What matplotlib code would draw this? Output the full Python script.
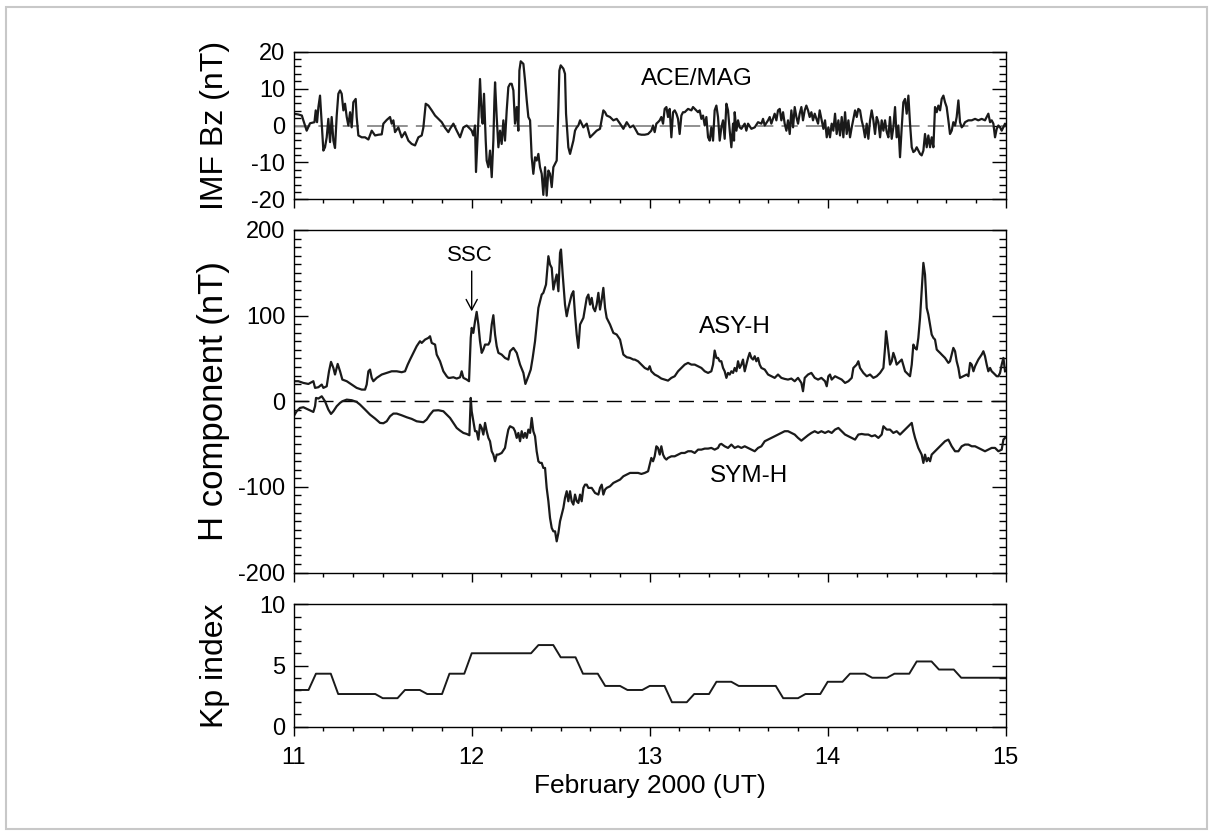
import numpy as np
import matplotlib
matplotlib.use("Agg")
import matplotlib.pyplot as plt
from matplotlib.ticker import MultipleLocator
from matplotlib.patches import Rectangle

plt.rcParams['font.family'] = ['Liberation Sans', 'DejaVu Sans']
plt.rcParams['axes.unicode_minus'] = False

# ---- data (time in hours after 11 Feb 2000 00 UT) ----
bz_hours = [
    # 11 Feb
    0.0, 0.6, 1.1, 1.3, 1.75, 2.2, 2.8, 2.97, 3.15, 3.33, 3.55, 3.78, 4.0, 4.22, 4.45, 4.67,
    4.9, 5.12, 5.35, 5.57, 5.8, 6.02, 6.25, 6.47, 6.7, 6.92, 7.15, 7.37, 7.6, 7.82, 8.04, 8.36,
    8.49, 8.72, 9.17, 9.62, 10.07, 10.52, 10.97, 11.42, 11.87, 12.09, 12.54, 12.99, 13.21, 13.44,
    13.66, 14.11, 14.56, 15.0, 15.46, 15.91, 16.36, 16.81, 17.26, 17.48, 17.8, 18.16, 18.61,
    19.06, 19.51, 19.96, 20.4, 20.85,
    # 12 Feb
    21.08, 21.53, 21.98, 22.43, 22.88, 23.33, 23.78, 24.0, 24.22, 24.45, 24.58, 24.9, 25.12,
    25.35, 25.48, 25.66, 25.89, 26.02, 26.25, 26.47, 26.7, 26.92, 27.06, 27.15, 27.37, 27.6,
    27.82, 28.04, 28.27, 28.49, 28.72, 28.94, 29.17, 29.39, 29.62, 29.84, 30.07, 30.29, 30.43,
    30.61, 30.97, 31.19, 31.42, 31.64, 31.87, 32.09, 32.31, 32.54, 32.76, 32.99, 33.21, 33.44,
    33.66, 33.89, 34.11, 34.34, 34.56, 34.79, 35.01, 35.24, 35.46, 35.69, 35.82, 36.0, 36.36,
    36.58, 36.72, 36.9, 37.03, 37.26, 37.48, 37.71, 37.93, 38.16, 38.38, 38.61, 38.83, 39.06,
    39.51, 39.96, 40.4, 40.85, 41.3, 41.75, 41.98, 42.2, 42.65, 43.1, 43.55, 44.0, 44.45, 44.9,
    45.35, 45.8,
    # 13 Feb
    46.43, 46.88, 47.33, 47.78, 48.22, 48.45, 48.67, 48.9, 49.12, 49.35, 49.57, 49.8, 50.02,
    50.25, 50.47, 50.7, 50.92, 51.15, 51.37, 51.6, 51.82, 52.04, 52.27, 52.49, 52.72, 53.17,
    53.62, 53.84, 54.29, 54.52, 54.74, 54.97, 55.19, 55.42, 55.64, 55.87, 56.09, 56.31, 56.54,
    56.76, 56.99, 57.21, 57.44, 57.66, 57.89, 58.11, 58.34, 58.56, 58.79, 59.01, 59.24, 59.37,
    59.46, 59.69, 59.91, 60.13, 60.36, 60.81, 61.03, 61.26, 61.71, 62.16, 62.61, 63.06, 63.28,
    63.51, 63.96, 64.18, 64.4, 64.85, 65.08, 65.3, 65.53, 65.75, 65.98, 66.2, 66.43, 66.65,
    66.88, 67.1, 67.33, 67.55, 67.78, 68.0, 68.22, 68.45, 68.67, 68.9, 69.12, 69.35, 69.57,
    69.8, 70.02, 70.25, 70.7, 70.92,
    # 14 Feb
    71.19, 71.42, 71.64, 71.87, 72.09, 72.31, 72.54, 72.76, 72.99, 73.21, 73.44, 73.66, 73.89,
    74.11, 74.34, 74.56, 74.79, 75.01, 75.24, 75.46, 75.69, 75.91, 76.13, 76.36, 76.58, 76.81,
    77.03, 77.26, 77.48, 77.71, 77.93, 78.16, 78.38, 78.61, 78.83, 79.06, 79.28, 79.51, 79.73,
    79.96, 80.18, 80.4, 80.63, 80.85, 81.08, 81.3, 81.53, 81.75, 81.98, 82.2, 82.43, 82.65,
    82.88, 83.1, 83.33, 83.55, 83.78, 84.0, 84.22, 84.45, 84.67, 84.9, 85.12, 85.35, 85.57,
    85.8, 86.02, 86.25, 86.47, 86.7, 86.92, 87.15, 87.37, 87.6, 87.82, 88.04, 88.27, 88.49,
    88.72, 88.94, 89.17, 89.39, 89.62, 89.84, 90.07, 90.29, 90.52, 90.97, 91.42, 91.87, 92.31,
    92.76, 93.21, 93.66, 93.89, 94.11, 94.34, 94.56, 94.79, 95.01, 95.24, 95.46, 95.91, 96.0,
]
bz_nt = [
    3.2, 3.0, 2.7, 1.4, -1.4, 0.6, 0.9, 4.1, 0.9, 5.0, 8.1, 0.5, -6.8, -5.9, -3.2, 1.8,
    -4.5, 2.3, -4.1, -6.1, 2.7, 8.6, 9.5, 8.6, 4.1, 5.9, 2.3, 0.0, 3.6, -0.5, 6.3, 7.2,
    2.3, -2.7, -3.2, -3.2, -3.8, -1.4, -2.7, -2.5, -2.4, 0.5, 1.5, 2.3, 0.5, 1.4,
    -1.8, -0.5, -3.2, -1.8, -4.1, -5.0, -5.4, -3.2, -2.7, -0.6, 5.9, 5.4, 4.1,
    2.7, 1.8, 0.9, -0.6, -1.8,
    -0.9, 0.5, -1.4, -3.2, -0.5, 0.0, -0.9, -1.4, -2.7, 0.0, -12.6, 1.4, 12.6,
    2.3, 0.5, 8.6, -4.1, -9.5, -11.3, -6.8, -14.0, -4.1, 6.8, 11.7, 2.3, -5.9,
    -1.4, -5.0, 1.4, -4.1, 4.1, 10.4, 11.3, 11.3, 9.5, 0.5, 5.0, -1.4, 14.9,
    17.4, 16.7, 12.2, 6.8, 2.3, 1.4, -8.6, -13.1, -8.6, -9.5, -7.7, -11.3, -13.1,
    -18.8, -11.3, -19.0, -12.2, -13.1, -16.7, -11.3, -10.4, -9.5, 5.0, 14.9, 16.3, 15.4,
    14.0, 3.2, -2.3, -5.9, -7.7, -5.9, -4.1, -1.4, -0.5, 0.0, 1.4, 0.5, -0.5,
    0.5, -3.2, -2.3, -1.4, -0.9, 4.1, 3.6, 2.7, 2.3, 1.4, 1.8, 0.5, -0.9, 0.9,
    -0.5, 0.0,
    -2.3, -2.5, -2.5, -2.3, -1.4, 0.0, -1.8, 0.5, 0.9, 1.4, 2.3, 0.5, 4.5,
    5.0, 2.3, 4.5, -3.2, 3.6, 4.1, 3.2, 1.8, -2.3, 2.7, 3.6, 3.6, 4.5,
    4.1, 5.0, 4.1, 3.6, 4.1, 1.8, 2.7, 0.0, 2.3, -3.2, -4.1, -0.5, -4.1,
    4.1, 5.4, 2.3, -4.1, -0.5, 1.4, -3.6, 5.9, 4.1, -1.4, -5.9, 0.5, -4.1,
    3.6, -1.4, 1.4, -0.5, -0.9, 0.5, -1.4, 0.5, -0.9, -0.5, 0.9, 0.5, 1.8,
    0.0, 1.4, 2.3, 0.5, 3.2, 1.4, 4.1, 4.5, 1.4, 3.6, 0.5, -1.4, 1.4,
    -2.3, 4.1, -0.5, 5.0, 2.3, 0.5, 3.2, 5.0, 1.4, 4.1, 5.4, 4.1, 2.3,
    3.6, 1.4, 3.2, 0.5, 4.1,
    1.4, -0.9, 1.4, -3.2, -0.5, -3.2, 0.5, -1.4, 3.2, -2.3, 1.4, -2.7, 2.3,
    -3.2, 3.6, -2.3, 1.4, -3.2, -0.5, 1.8, 4.1, 2.3, 4.5, 4.1, 1.4, -0.5,
    -3.2, 0.5, -3.6, 1.4, 4.1, 1.4, -2.3, 2.3, 0.9, -3.2, 1.4, -1.4, 1.4,
    -1.8, -3.2, 2.3, -3.6, -0.5, 5.0, -3.2, 0.0, -8.6, -0.5, 6.3, 7.2, 3.2,
    8.1, 0.5, -5.9, -7.2, -6.8, -5.9, -6.8, -7.7, -8.1, -6.8, -2.3, -5.9, -2.7,
    -5.9, -3.2, -5.9, 5.0, 3.6, 5.4, 4.1, 7.2, 8.1, 6.3, 5.0, 1.4, -2.3,
    -1.4, 0.9, 0.0, 2.3, 6.8, 0.9, -0.5, 0.0, 0.9, 1.4, 1.4, 1.8, 1.4,
    1.8, 1.4, 3.2, 0.9, 1.4, 0.5, -3.2, -0.9, 0.0, -0.5, -1.4, 0.5, 0.0,
]

asy_hours = [
    0.0, 0.63, 1.3, 1.98, 2.65, 2.88, 3.33, 3.78, 4.0, 4.45, 4.76, 5.03, 5.35, 5.57, 5.93,
    6.25, 6.56, 7.15, 7.82, 8.49, 9.17, 9.62, 9.84, 10.07, 10.29, 10.52, 10.74, 11.19, 11.87,
    12.54, 13.21, 13.89, 14.56, 15.01, 15.37, 15.69, 16.13, 16.58, 17.03, 17.26, 17.71, 18.16,
    18.38, 18.61, 19.06, 19.28, 19.73, 20.18, 20.63, 20.85,
    21.08, 21.53, 21.98, 22.43, 22.65, 22.88, 23.33, 23.64, 23.87, 24.0, 24.22, 24.45, 24.67,
    24.9, 25.12, 25.35, 25.57, 25.8, 26.25, 26.47, 26.7, 26.92, 27.15, 27.37, 27.6, 28.04,
    28.49, 28.94, 29.17, 29.62, 30.07, 30.52, 30.97, 31.24, 31.64, 31.96, 32.22, 32.54, 32.99,
    33.21, 33.44, 33.66, 34.02, 34.34, 34.56, 34.79, 35.01, 35.24, 35.46, 35.69, 35.91, 36.04,
    36.27, 36.58, 36.81, 37.03, 37.48, 37.71, 37.93, 38.16, 38.38, 38.61, 39.06, 39.51, 39.73,
    39.96, 40.18, 40.4, 40.63, 40.85, 41.08, 41.3, 41.53, 41.75, 41.98, 42.2, 42.65, 43.1,
    43.55, 44.0, 44.45, 44.9, 45.35, 45.8,
    45.98, 46.43, 46.88, 47.33, 47.78, 48.0, 48.22, 48.67, 49.12, 49.57, 50.02, 50.47, 50.92,
    51.37, 51.82, 52.27, 52.72, 53.17, 53.62, 54.07, 54.52, 54.97, 55.42, 55.87, 56.31, 56.54,
    56.76, 56.99, 57.21, 57.44, 57.66, 57.89, 58.11, 58.34, 58.56, 58.79, 59.01, 59.24, 59.46,
    59.69, 59.91, 60.13, 60.36, 60.58, 60.81, 61.03, 61.26, 61.48, 61.71, 61.93, 62.16, 62.38,
    62.61, 62.83, 63.06, 63.51, 63.96, 64.4, 64.85, 65.3, 65.75, 66.2, 66.65, 67.1, 67.55,
    68.0, 68.45, 68.67, 68.9, 69.35, 69.8, 70.25, 70.7, 71.15,
    71.64, 71.87, 72.09, 72.31, 72.54, 72.99, 73.44, 73.89, 74.34, 74.79, 75.24, 75.46, 75.91,
    76.13, 76.36, 76.81, 77.26, 77.71, 78.16, 78.61, 79.06, 79.51, 79.73, 79.87, 80.09, 80.4,
    80.63, 80.85, 81.08, 81.3, 81.75, 81.98, 82.43, 82.88, 83.1, 83.33, 83.55, 83.78, 84.0,
    84.22, 84.45, 84.67, 84.9, 85.12, 85.35, 85.57, 85.8, 86.02, 86.25, 86.47, 86.7, 86.92,
    87.15, 87.37, 87.82, 88.27, 88.49, 88.72, 88.94, 89.17, 89.39, 89.62, 89.84, 90.29, 90.74,
    90.97, 91.2, 91.42, 91.65, 91.87, 92.31, 92.76, 92.99, 93.21, 93.44, 93.66, 93.89, 94.11,
    94.34, 94.79, 95.01, 95.24, 95.46, 95.69, 95.91,
]
asy_nt = [
    23.4, 23.4, 21.4, 20.2, 23.4, 15.6, 16.4, 19.5, 15.6, 17.5, 35.0, 46.0, 38.9, 31.2, 43.6,
    35.0, 25.3, 23.4, 19.5, 15.6, 13.6, 13.6, 19.5, 35.0, 37.0, 27.3, 23.4, 27.3, 31.2,
    33.1, 35.0, 35.0, 33.9, 35.0, 42.8, 48.7, 56.5, 64.3, 70.1, 68.1, 72.0, 74.0,
    75.9, 68.1, 66.2, 54.5, 46.7, 35.0, 29.2, 27.3,
    27.3, 28.0, 26.5, 28.0, 35.0, 27.3, 25.3, 23.4, 74.0, 85.7, 79.8, 93.5, 104.4,
    89.6, 70.1, 56.5, 60.4, 66.2, 66.2, 70.1, 89.6, 100.5, 77.9, 64.3, 56.5, 54.5,
    50.6, 48.7, 58.4, 62.3, 56.5, 42.8, 33.1, 20.2, 29.2, 37.0, 50.6, 70.1, 109.0,
    116.8, 124.6, 126.6, 136.3, 169.4, 159.7, 155.8, 130.5, 140.2, 148.0, 128.5, 173.3, 177.2,
    148.0, 112.9, 99.3, 109.0, 124.6, 128.5, 101.2, 77.9, 62.3, 89.6, 97.4, 120.7, 124.6,
    112.9, 120.7, 109.0, 105.1, 112.9, 126.6, 107.1, 118.8, 132.4, 109.0, 97.4, 89.6, 79.8,
    77.9, 72.0, 54.5, 51.4, 50.6, 48.7,
    48.7, 46.7, 42.8, 38.9, 37.0, 40.9, 35.0, 31.2, 29.2, 26.5, 25.3, 24.1, 27.3,
    29.2, 35.0, 38.9, 42.8, 44.8, 42.8, 42.8, 40.9, 38.9, 35.0, 33.1, 35.0, 42.8,
    59.2, 50.6, 50.6, 46.7, 46.7, 38.9, 35.0, 27.3, 33.1, 31.2, 35.0, 33.1, 38.9,
    35.0, 46.7, 38.9, 42.8, 48.7, 35.0, 42.8, 50.6, 56.5, 50.6, 48.7, 52.6, 46.7,
    50.6, 42.8, 38.9, 37.0, 31.2, 29.2, 27.3, 31.2, 27.3, 26.1, 25.3, 26.5, 23.4,
    27.3, 21.4, 11.7, 27.3, 31.2, 33.1, 27.3, 25.3, 27.3,
    23.4, 17.5, 29.2, 31.2, 25.3, 29.2, 27.3, 25.3, 21.4, 23.4, 27.3, 38.9, 42.8,
    46.7, 38.9, 33.1, 29.2, 31.2, 27.3, 29.2, 33.1, 38.9, 62.3, 81.8, 66.2, 42.8,
    46.7, 56.5, 50.6, 42.8, 46.7, 48.7, 35.0, 31.2, 29.2, 42.8, 66.2, 62.3, 60.4,
    74.0, 97.4, 128.5, 161.6, 148.0, 109.0, 101.2, 89.6, 77.9, 74.0, 72.0, 60.4, 58.4,
    56.5, 54.5, 50.6, 44.8, 46.7, 54.5, 62.3, 58.4, 46.7, 38.9, 27.3, 29.2, 31.2,
    29.2, 44.8, 42.8, 35.0, 40.9, 48.7, 54.5, 58.4, 52.6, 42.8, 35.0, 38.9, 35.0,
    33.1, 29.2, 29.2, 33.1, 42.8, 50.6, 35.0,
]

sym_hours = [
    0.0, 0.4, 0.85, 1.3, 1.98, 2.65, 2.88, 3.01, 3.33, 3.78, 4.22, 4.67, 5.03, 5.35, 5.8,
    6.25, 6.56, 7.15, 7.82, 8.49, 8.94, 9.62, 10.29, 10.97, 11.64, 12.09, 12.54, 12.99, 13.44,
    13.89, 14.56, 15.24, 15.91, 16.58, 17.48, 17.93, 18.38, 18.83, 19.51, 20.18, 20.63,
    21.08, 21.53, 21.98, 22.43, 22.88, 23.33, 23.69, 23.87, 24.0, 24.22, 24.45, 24.67, 24.9,
    25.12, 25.35, 25.57, 25.8, 26.02, 26.25, 26.47, 26.7, 26.92, 27.15, 27.37, 27.6, 28.04,
    28.49, 28.72, 28.94, 29.17, 29.62, 29.84, 30.07, 30.29, 30.52, 30.74, 30.97, 31.19, 31.42,
    31.64, 31.87, 32.09, 32.31, 32.54, 32.76, 32.99, 33.21, 33.44, 33.66, 33.89, 34.11, 34.34,
    34.56, 34.79, 35.01, 35.24, 35.46, 35.69, 35.91, 36.13, 36.36, 36.58, 36.81, 37.03, 37.26,
    37.48, 37.71, 37.93, 38.16, 38.38, 38.61, 38.83, 39.06, 39.28, 39.51, 39.73, 40.18, 40.63,
    41.08, 41.3, 41.53, 41.75, 41.98, 42.2, 42.65, 43.1, 43.55, 44.0, 44.45, 44.9, 45.35, 45.8,
    46.43, 46.88, 47.33, 47.78, 48.0, 48.22, 48.45, 48.67, 48.9, 49.12, 49.35, 49.57, 49.8,
    50.02, 50.25, 50.47, 50.92, 51.37, 51.82, 52.27, 52.72, 53.17, 53.62, 54.07, 54.52, 54.97,
    55.42, 55.87, 56.31, 56.76, 57.21, 57.44, 57.66, 58.11, 58.56, 59.01, 59.46, 59.91, 60.36,
    60.81, 61.26, 61.71, 62.16, 62.61, 63.06, 63.51, 63.96, 64.4, 64.85, 65.3, 65.75, 66.2,
    66.65, 67.1, 67.55, 68.0, 68.45, 68.9, 69.35, 69.8, 70.25, 70.7, 71.15,
    71.64, 72.09, 72.54, 72.99, 73.44, 73.89, 74.34, 74.79, 75.24, 75.69, 76.13, 76.58, 77.03,
    77.48, 77.93, 78.38, 78.83, 79.28, 79.51, 79.96, 80.4, 80.85, 81.3, 81.75, 82.2, 82.65,
    83.1, 83.33, 83.55, 83.78, 84.22, 84.67, 84.9, 85.12, 85.35, 85.57, 85.8, 86.02, 86.47,
    86.92, 87.37, 87.82, 88.27, 88.72, 89.17, 89.62, 90.07, 90.52, 90.97, 91.42, 91.87, 92.31,
    92.76, 93.21, 93.66, 94.11, 94.56, 95.01, 95.46, 95.69, 95.91,
]
sym_nt = [
    -17.5, -11.7, -7.8, -7.0, -9.7, -12.5, -5.8, 3.9, 3.1, 5.8, 0.0, -9.7, -14.8, -11.7, -5.8,
    -1.9, 0.0, 1.9, 1.2, -0.8, -3.9, -9.7, -15.6, -20.2, -25.3, -25.7, -23.4, -17.5, -14.4,
    -14.4, -16.4, -18.7, -20.6, -23.4, -24.5, -21.4, -15.6, -10.9, -10.5, -11.7, -15.6,
    -19.5, -25.3, -31.2, -34.3, -37.0, -38.2, -39.7, 3.9, -11.7, -23.4, -35.0, -35.0, -44.8,
    -27.3, -31.2, -38.9, -25.3, -35.0, -42.8, -46.7, -58.4, -62.3, -70.1, -62.3, -62.3, -60.4,
    -54.5, -42.8, -33.1, -29.2, -31.2, -35.0, -42.8, -37.0, -46.7, -35.0, -42.8, -37.0, -42.8,
    -33.1, -37.0, -19.5, -35.0, -40.9, -58.4, -70.1, -72.0, -72.0, -77.9, -77.9, -101.2, -116.8,
    -136.3, -148.0, -151.9, -151.9, -163.6, -153.8, -140.2, -132.4, -124.6, -112.9, -105.1, -116.8, -105.1,
    -116.8, -120.7, -109.0, -116.8, -118.8, -109.0, -116.8, -101.2, -97.4, -97.4, -101.2, -101.2, -107.1,
    -109.0, -101.2, -97.4, -109.0, -103.2, -101.2, -99.3, -95.4, -93.5, -91.5, -87.6, -85.7, -83.7, -83.7,
    -83.7, -84.9, -83.7, -81.8, -74.0, -66.2, -70.1, -64.3, -52.6, -54.5, -62.3, -52.6, -62.3,
    -66.2, -68.1, -66.2, -64.3, -64.3, -62.3, -60.4, -60.4, -58.4, -58.4, -60.4, -56.5, -56.5,
    -55.3, -55.3, -54.5, -56.5, -54.5, -50.6, -49.8, -52.6, -54.5, -50.6, -54.5, -52.6, -54.5,
    -52.6, -54.5, -56.5, -58.4, -54.5, -52.6, -46.7, -44.8, -42.8, -40.9, -38.9, -37.0, -35.0,
    -35.0, -37.0, -38.9, -42.8, -46.0, -42.8, -39.7, -37.0, -35.0, -37.0, -35.0,
    -37.0, -35.0, -37.0, -33.1, -31.2, -35.0, -38.9, -40.9, -42.8, -44.8, -38.9, -38.2, -38.9,
    -38.9, -40.9, -39.7, -42.8, -38.9, -29.2, -33.1, -33.1, -37.0, -35.0, -38.9, -35.0, -31.2,
    -27.3, -25.3, -35.0, -42.8, -54.5, -62.3, -72.0, -62.3, -70.1, -66.2, -70.1, -62.3, -58.4,
    -54.5, -50.6, -46.7, -44.8, -52.6, -58.4, -58.4, -52.6, -50.6, -50.6, -52.6, -52.6, -54.5,
    -56.5, -58.4, -56.5, -54.5, -54.5, -58.4, -56.5, -44.8, -42.8,
]

# 3-hourly Kp, 11 Feb 00 UT to 14 Feb 21 UT
kp_values = [
    3.0, 4.33, 2.67, 2.67, 2.33, 3.0, 2.67, 4.33,
    6.0, 6.0, 6.0, 6.67, 5.67, 4.33, 3.33, 3.0,
    3.33, 2.0, 2.67, 3.67, 3.33, 3.33, 2.33, 2.67,
    3.67, 4.33, 4.0, 4.33, 5.33, 4.67, 4.0, 4.0,
]

day_ticks = [11, 12, 13, 14, 15]


def to_day(hours):
    return 11 + np.asarray(hours) / 24.0


def style_axis(ax, ylim, major, minor):
    ax.set_xlim(11, 15)
    ax.set_ylim(*ylim)
    ax.set_xticks(day_ticks)
    ax.xaxis.set_minor_locator(MultipleLocator(1 / 6))
    ax.yaxis.set_major_locator(MultipleLocator(major))
    ax.yaxis.set_minor_locator(MultipleLocator(minor))
    ax.tick_params(axis='y', which='both', direction='in', left=True, right=True,
                   labelsize=17, pad=6)
    ax.tick_params(axis='y', which='major', length=10, width=1)
    ax.tick_params(axis='y', which='minor', length=5, width=1)
    ax.tick_params(axis='x', which='both', direction='out', top=False, labelsize=17, pad=8)
    ax.tick_params(axis='x', which='major', length=6.5, width=1)
    ax.tick_params(axis='x', which='minor', length=3, width=1)
    for sp in ax.spines.values():
        sp.set_linewidth(1.0)
    ax.yaxis.set_label_coords(-0.09, 0.5)


W, H = 1214, 836
fig = plt.figure(figsize=(W / 100, H / 100), dpi=100)

left, right = 293.7 / W, 1005.7 / W
ax1 = fig.add_axes([left, 1 - 199.3 / H, right - left, (199.3 - 51.7) / H])
ax2 = fig.add_axes([left, 1 - 572.5 / H, right - left, (572.5 - 230.0) / H])
ax3 = fig.add_axes([left, 1 - 726.7 / H, right - left, (726.7 - 604.3) / H])

# IMF Bz
ax1.axhline(0, color='#888888', lw=1.3, dashes=(9, 4.5))
ax1.plot(to_day(bz_hours), bz_nt, color='#1a1a1a', lw=1.6)
style_axis(ax1, (-20, 20), 10, 2)
ax1.set_ylabel('IMF Bz (nT)', fontsize=23)
ax1.text(13.266, 12.5, 'ACE/MAG', fontsize=17.5, ha='center', va='center')
ax1.tick_params(axis='x', labelbottom=False)

# ASY-H / SYM-H
ax2.axhline(0, color='black', lw=1.0, dashes=(10.8, 6.5))
ax2.plot(to_day(asy_hours), asy_nt, color='#1a1a1a', lw=1.6)
ax2.plot(to_day(sym_hours), sym_nt, color='#1a1a1a', lw=1.6)
style_axis(ax2, (-200, 200), 100, 10)
ax2.set_ylabel('H component (nT)', fontsize=25)
ax2.text(13.479, 86.7, 'ASY-H', fontsize=17.5, ha='center', va='center')
ax2.text(13.558, -86.8, 'SYM-H', fontsize=17.5, ha='center', va='center')
ax2.text(11.99, 170, 'SSC', fontsize=16, ha='center', va='center')
ax2.annotate('', xy=(12.0, 105), xytext=(12.0, 152),
             arrowprops=dict(arrowstyle='->,head_length=0.75,head_width=0.4',
                             color='black', lw=1.0, shrinkA=0, shrinkB=0))
ax2.tick_params(axis='x', labelbottom=False)

# Kp index, hourly samples of the 3-hour values
kp_hourly = np.repeat(kp_values, 3)
kp_t = to_day(np.arange(len(kp_hourly)))
kp_t = np.append(kp_t, 15.0)
kp_hourly = np.append(kp_hourly, kp_values[-1])
ax3.plot(kp_t, kp_hourly, color='#1a1a1a', lw=1.4)
style_axis(ax3, (0, 10), 5, 1)
ax3.set_ylabel('Kp index', fontsize=23)
ax3.set_xlabel('February 2000 (UT)', fontsize=19, labelpad=4)

# light frame around the whole figure
fig.patches.append(Rectangle((6 / W, 7 / H), (1207 - 6) / W, (829 - 7) / H,
                             transform=fig.transFigure, fill=False,
                             edgecolor='#c8c8c8', lw=1.5))

fig.savefig('out.png', dpi=100)
